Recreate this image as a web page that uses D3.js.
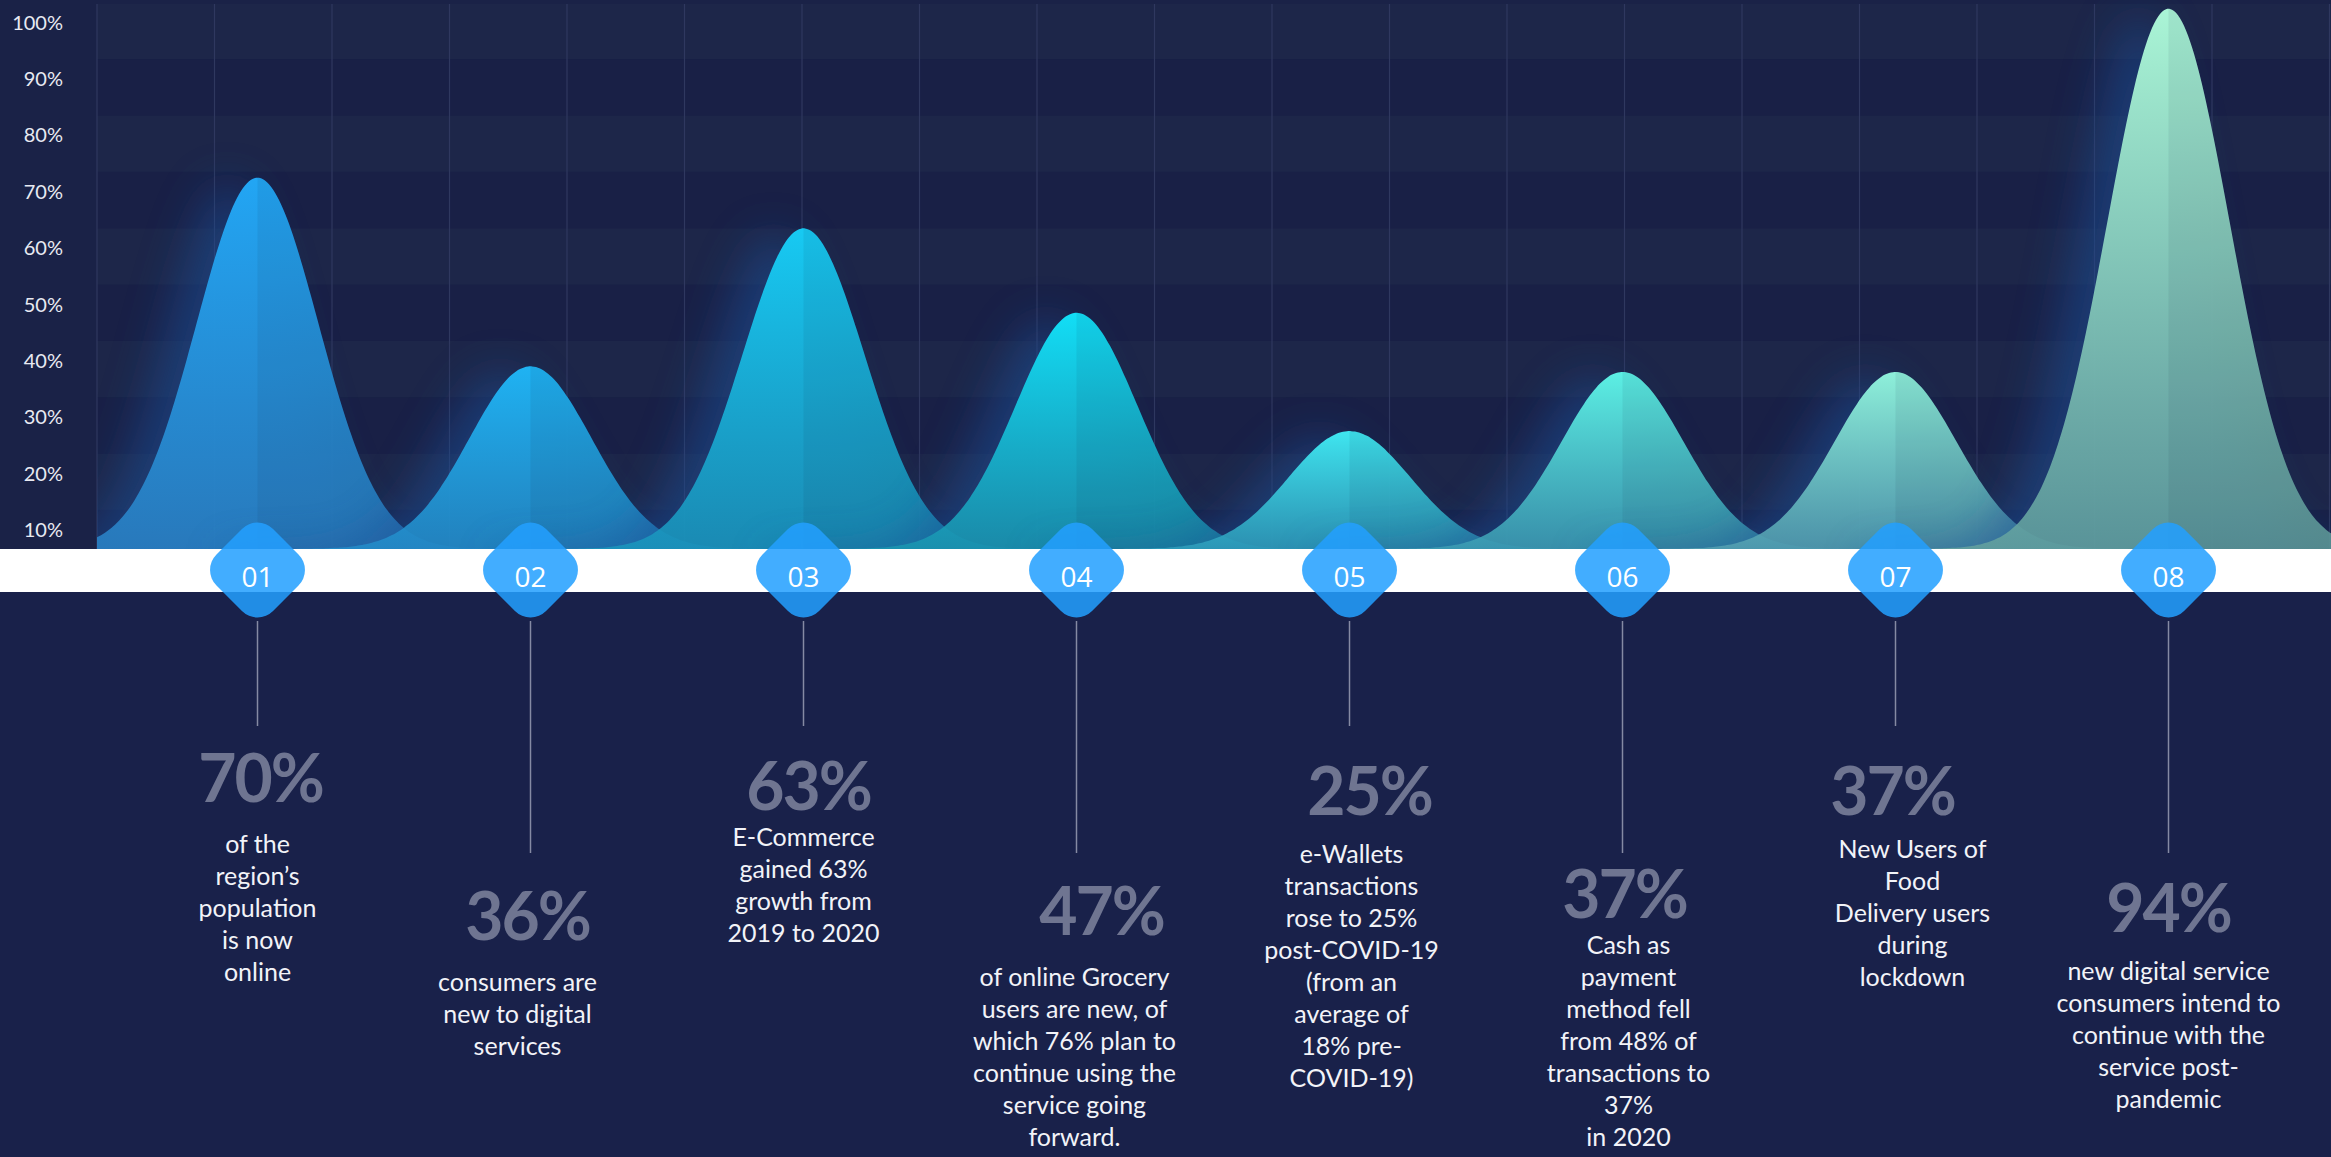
<!DOCTYPE html>
<html><head><meta charset="utf-8">
<script src="https://cdn.jsdelivr.net/npm/d3@7"></script>
<style>
html,body{margin:0;padding:0;background:#19214a;overflow:hidden}
svg{display:block}
</style></head><body>
<svg id="chart" width="2331" height="1157"></svg>
<script>
// ---------- DATA ----------
const categories = ["01","02","03","04","05","06","07","08"];
// heights of the bell curves, read against the % axis
const curvePeaks = [69, 35.5, 60, 45, 24, 34.5, 34.5, 99];
const statLabels = ["70%","36%","63%","47%","25%","37%","37%","94%"];
const descriptions = [
  ["of the","region\u2019s","population","is now","online"],
  ["consumers are","new to digital","services"],
  ["E-Commerce","gained 63%","growth from","2019 to 2020"],
  ["of online Grocery","users are new, of","which 76% plan to","continue using the","service going","forward."],
  ["e-Wallets","transactions","rose to 25%","post-COVID-19","(from an","average of","18% pre-","COVID-19)"],
  ["Cash as","payment","method fell","from 48% of","transactions to","37%","in 2020"],
  ["New Users of","Food","Delivery users","during","lockdown"],
  ["new digital service","consumers intend to","continue with the","service post-","pandemic"]
];
const yTickValues = [10,20,30,40,50,60,70,80,90,100];
const yTickLabels = ["10%","20%","30%","40%","50%","60%","70%","80%","90%","100%"];

// ---------- STYLE / LAYOUT ----------
const bellTop    = ["#22a6f4","#1fb3f3","#17caf3","#12def6","#3fe6f0","#5cf0e4","#8ef0da","#aaf5d6"];
const bellBottom = ["#2a82c6","#238bc8","#1a95bc","#1a95b0","#2e9cba","#3c9bb2","#529eb0","#62a09e"];
// per item text nudges: [number dx, number baseline, description dx, first description baseline]
const textLayout = [
  [3, 802, 0, 853],[-3, 940, -13, 991],[5, 810, 0, 846],[25, 935, -2, 986],
  [20, 815, 2, 863],[2, 918, 6, 954],[-3, 815, 17, 858],[0, 932, 0, 980]
];

const W = 2331, H = 1157;
const plotLeft = 97, bandTop = 549, bandBottom = 592;
const svg = d3.select("#chart");
const defs = svg.append("defs");

const y = d3.scaleLinear().domain([0, 100]).range([566.3, 2.7]);
const x = d3.scalePoint().domain(categories).range([257.5, 2168.5]);
const sigma = 61;
const baseVal = y.invert(bandTop);

// background
svg.append("rect").attr("width", W).attr("height", H).attr("fill", "#19214a");
svg.append("rect").attr("width", W).attr("height", bandTop).attr("fill", "#1a2247");

// alternating bands
svg.append("g").selectAll("rect").data(yTickValues).join("rect")
  .attr("x", plotLeft).attr("width", W - plotLeft)
  .attr("y", d => d === 100 ? 4 : y(d))
  .attr("height", d => Math.min(y(d - 10), bandTop) - (d === 100 ? 4 : y(d)))
  .attr("fill", d => d % 20 === 0 ? "#1d2649" : "#192046");

// vertical grid
svg.append("g").selectAll("line").data(d3.range(0, 20)).join("line")
  .attr("x1", k => plotLeft + 117.5 * k).attr("x2", k => plotLeft + 117.5 * k)
  .attr("y1", 4).attr("y2", bandTop)
  .attr("stroke", "#2f385f").attr("stroke-width", 1.2);

// y axis labels
svg.append("g").selectAll("text").data(yTickValues).join("text")
  .attr("x", 63).attr("y", d => y(d) + 27)
  .attr("text-anchor", "end")
  .attr("font-family", "Lato, 'DejaVu Sans', sans-serif").attr("font-size", 20)
  .attr("fill", "#e8eaf2")
  .text((d, i) => yTickLabels[i]);

// clip for plot
defs.append("clipPath").attr("id", "plotClip").append("rect")
  .attr("x", plotLeft).attr("y", 0).attr("width", W - plotLeft).attr("height", bandTop);

const glow = defs.append("filter").attr("id", "glow")
  .attr("x", "-50%").attr("y", "-50%").attr("width", "200%").attr("height", "200%");
glow.append("feGaussianBlur").attr("stdDeviation", 22);

const area = d3.area().x(d => d.x).y0(y(0)).y1(d => y(d.v)).curve(d3.curveBasis);
function bellData(i) {
  const c = x(categories[i]), h = curvePeaks[i];
  return d3.range(-4.5 * sigma, 4.5 * sigma + 1, 4).map(dx => ({
    x: c + dx,
    v: baseVal + (h - baseVal) * Math.exp(-(dx * dx) / (2 * sigma * sigma))
  }));
}

const plotG = svg.append("g").attr("clip-path", "url(#plotClip)");
categories.forEach((cat, i) => {
  const pts = bellData(i);
  const c = x(cat);
  const g = defs.append("linearGradient").attr("id", "bg" + i)
    .attr("gradientUnits", "userSpaceOnUse")
    .attr("x1", 0).attr("x2", 0).attr("y1", y(curvePeaks[i])).attr("y2", bandTop);
  g.append("stop").attr("offset", 0).attr("stop-color", bellTop[i]).attr("stop-opacity", 1);
  g.append("stop").attr("offset", 1).attr("stop-color", bellBottom[i]).attr("stop-opacity", 0.88);
  // soft shadow glow, mostly to the left
  plotG.append("path").attr("d", area(pts))
    .attr("transform", "translate(-30,6)")
    .attr("fill", "#1a4f96").attr("opacity", 0.55).attr("filter", "url(#glow)");
  // bell
  plotG.append("path").attr("d", area(pts)).attr("fill", `url(#bg${i})`);
  // right-half shade
  defs.append("clipPath").attr("id", "bc" + i).append("path").attr("d", area(pts));
  plotG.append("rect").attr("clip-path", `url(#bc${i})`)
    .attr("x", c).attr("y", 0).attr("width", 5 * sigma).attr("height", bandTop)
    .attr("fill", "#0b1838").attr("opacity", 0.07);
});

// white axis band
svg.append("rect").attr("x", 0).attr("y", bandTop).attr("width", W)
  .attr("height", bandBottom - bandTop).attr("fill", "#ffffff");

// connectors
svg.append("g").selectAll("line").data(categories).join("line")
  .attr("x1", d => x(d)).attr("x2", d => x(d))
  .attr("y1", 621).attr("y2", (d, i) => i % 2 ? 853 : 726)
  .attr("stroke", "#858aa3").attr("stroke-width", 1.5);

// badges
const badges = svg.append("g").selectAll("g").data(categories).join("g")
  .attr("transform", d => `translate(${x(d)},570)`);
badges.append("rect")
  .attr("x", -40).attr("y", -40).attr("width", 80).attr("height", 80).attr("rx", 22)
  .attr("transform", "rotate(45)")
  .attr("fill", "rgb(35,160,255)").attr("fill-opacity", 0.86);
badges.append("text")
  .attr("y", 17).attr("text-anchor", "middle")
  .attr("font-family", "'Open Sans', sans-serif").attr("font-size", 28)
  .attr("fill", "#ffffff").text(d => d);

// stat numbers
svg.append("g").selectAll("text").data(statLabels).join("text")
  .attr("x", (d, i) => x(categories[i]) + textLayout[i][0])
  .attr("y", (d, i) => textLayout[i][1])
  .attr("text-anchor", "middle")
  .attr("font-family", "Lato, sans-serif").attr("font-weight", 700)
  .attr("font-size", 66).attr("letter-spacing", -2)
  .attr("fill", "#6f7591").text(d => d);

// descriptions
const desc = svg.append("g").selectAll("text").data(descriptions).join("text")
  .attr("text-anchor", "middle")
  .attr("font-family", "Lato, sans-serif").attr("font-size", 25)
  .attr("fill", "#f2f3f8");
desc.each(function(lines, i) {
  const t = d3.select(this);
  const cx = x(categories[i]) + textLayout[i][2];
  lines.forEach((ln, j) => {
    t.append("tspan").attr("x", cx).attr("y", textLayout[i][3] + j * 32).text(ln);
  });
});
</script>
</body></html>
